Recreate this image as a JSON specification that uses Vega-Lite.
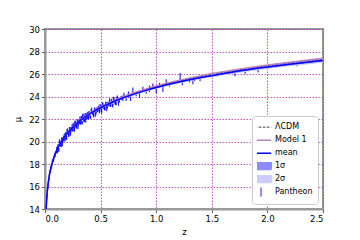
{
  "$schema": "https://vega.github.io/schema/vega-lite/v6.json",
  "width": 278,
  "height": 180,
  "autosize": "none",
  "padding": {"left": 45, "top": 29, "right": 37, "bottom": 31},
  "background": "white",
  "config": {
    "font": "DejaVu Sans",
    "view": {"stroke": "#999999", "strokeWidth": 2},
    "axis": {
      "labelFont": "DejaVu Sans", "labelFontSize": 8.5, "labelColor": "#000000",
      "titleFont": "DejaVu Sans", "titleFontSize": 8.5, "titleFontWeight": "normal", "titleColor": "#000000",
      "domainColor": "#999999", "domainWidth": 2,
      "tickColor": "#333333", "tickSize": 3.5, "tickWidth": 0.8,
      "gridColor": "#b030b0", "gridDash": [1.5, 1.5], "gridOpacity": 0.8, "gridWidth": 1
    }
  },
  "datasets": {
    "curves": [
      {"series": "ΛCDM", "z": 0.01, "mu": 13.98}, {"series": "ΛCDM", "z": 0.015, "mu": 14.86}, {"series": "ΛCDM", "z": 0.02, "mu": 15.50},
      {"series": "ΛCDM", "z": 0.03, "mu": 16.39}, {"series": "ΛCDM", "z": 0.04, "mu": 17.04}, {"series": "ΛCDM", "z": 0.05, "mu": 17.53},
      {"series": "ΛCDM", "z": 0.075, "mu": 18.45}, {"series": "ΛCDM", "z": 0.1, "mu": 19.12}, {"series": "ΛCDM", "z": 0.15, "mu": 20.07},
      {"series": "ΛCDM", "z": 0.2, "mu": 20.76}, {"series": "ΛCDM", "z": 0.25, "mu": 21.30}, {"series": "ΛCDM", "z": 0.3, "mu": 21.76},
      {"series": "ΛCDM", "z": 0.4, "mu": 22.48}, {"series": "ΛCDM", "z": 0.5, "mu": 23.06}, {"series": "ΛCDM", "z": 0.6, "mu": 23.54},
      {"series": "ΛCDM", "z": 0.7, "mu": 23.95}, {"series": "ΛCDM", "z": 0.8, "mu": 24.30}, {"series": "ΛCDM", "z": 0.9, "mu": 24.62},
      {"series": "ΛCDM", "z": 1.0, "mu": 24.90}, {"series": "ΛCDM", "z": 1.2, "mu": 25.39}, {"series": "ΛCDM", "z": 1.4, "mu": 25.81},
      {"series": "ΛCDM", "z": 1.6, "mu": 26.16}, {"series": "ΛCDM", "z": 1.8, "mu": 26.48}, {"series": "ΛCDM", "z": 2.0, "mu": 26.76},
      {"series": "ΛCDM", "z": 2.2, "mu": 27.01}, {"series": "ΛCDM", "z": 2.4, "mu": 27.24}, {"series": "ΛCDM", "z": 2.5, "mu": 27.35},
      {"series": "Model 1", "z": 0.01, "mu": 13.99}, {"series": "Model 1", "z": 0.015, "mu": 14.87}, {"series": "Model 1", "z": 0.02, "mu": 15.51},
      {"series": "Model 1", "z": 0.03, "mu": 16.40}, {"series": "Model 1", "z": 0.04, "mu": 17.05}, {"series": "Model 1", "z": 0.05, "mu": 17.54},
      {"series": "Model 1", "z": 0.075, "mu": 18.46}, {"series": "Model 1", "z": 0.1, "mu": 19.13}, {"series": "Model 1", "z": 0.15, "mu": 20.08},
      {"series": "Model 1", "z": 0.2, "mu": 20.78}, {"series": "Model 1", "z": 0.25, "mu": 21.32}, {"series": "Model 1", "z": 0.3, "mu": 21.78},
      {"series": "Model 1", "z": 0.4, "mu": 22.50}, {"series": "Model 1", "z": 0.5, "mu": 23.09}, {"series": "Model 1", "z": 0.6, "mu": 23.57},
      {"series": "Model 1", "z": 0.7, "mu": 23.98}, {"series": "Model 1", "z": 0.8, "mu": 24.33}, {"series": "Model 1", "z": 0.9, "mu": 24.65},
      {"series": "Model 1", "z": 1.0, "mu": 24.94}, {"series": "Model 1", "z": 1.2, "mu": 25.43}, {"series": "Model 1", "z": 1.4, "mu": 25.85},
      {"series": "Model 1", "z": 1.6, "mu": 26.20}, {"series": "Model 1", "z": 1.8, "mu": 26.52}, {"series": "Model 1", "z": 2.0, "mu": 26.80},
      {"series": "Model 1", "z": 2.2, "mu": 27.05}, {"series": "Model 1", "z": 2.4, "mu": 27.28}, {"series": "Model 1", "z": 2.5, "mu": 27.39},
      {"series": "mean", "z": 0.01, "mu": 13.98}, {"series": "mean", "z": 0.015, "mu": 14.86}, {"series": "mean", "z": 0.02, "mu": 15.49},
      {"series": "mean", "z": 0.03, "mu": 16.38}, {"series": "mean", "z": 0.04, "mu": 17.03}, {"series": "mean", "z": 0.05, "mu": 17.52},
      {"series": "mean", "z": 0.075, "mu": 18.43}, {"series": "mean", "z": 0.1, "mu": 19.10}, {"series": "mean", "z": 0.15, "mu": 20.04},
      {"series": "mean", "z": 0.2, "mu": 20.73}, {"series": "mean", "z": 0.25, "mu": 21.26}, {"series": "mean", "z": 0.3, "mu": 21.72},
      {"series": "mean", "z": 0.4, "mu": 22.43}, {"series": "mean", "z": 0.5, "mu": 23.00}, {"series": "mean", "z": 0.6, "mu": 23.47},
      {"series": "mean", "z": 0.7, "mu": 23.87}, {"series": "mean", "z": 0.8, "mu": 24.21}, {"series": "mean", "z": 0.9, "mu": 24.52},
      {"series": "mean", "z": 1.0, "mu": 24.80}, {"series": "mean", "z": 1.2, "mu": 25.28}, {"series": "mean", "z": 1.4, "mu": 25.69},
      {"series": "mean", "z": 1.6, "mu": 26.03}, {"series": "mean", "z": 1.8, "mu": 26.35}, {"series": "mean", "z": 2.0, "mu": 26.62},
      {"series": "mean", "z": 2.2, "mu": 26.87}, {"series": "mean", "z": 2.4, "mu": 27.09}, {"series": "mean", "z": 2.5, "mu": 27.20}
    ],
    "bands": [
      {"series": "2σ", "z": 0.01, "lo": 13.92, "hi": 14.04}, {"series": "2σ", "z": 0.015, "lo": 14.80, "hi": 14.92}, {"series": "2σ", "z": 0.02, "lo": 15.43, "hi": 15.55},
      {"series": "2σ", "z": 0.03, "lo": 16.32, "hi": 16.44}, {"series": "2σ", "z": 0.04, "lo": 16.97, "hi": 17.09}, {"series": "2σ", "z": 0.05, "lo": 17.46, "hi": 17.58},
      {"series": "2σ", "z": 0.075, "lo": 18.37, "hi": 18.49}, {"series": "2σ", "z": 0.1, "lo": 19.03, "hi": 19.17}, {"series": "2σ", "z": 0.15, "lo": 19.97, "hi": 20.11},
      {"series": "2σ", "z": 0.2, "lo": 20.66, "hi": 20.80}, {"series": "2σ", "z": 0.25, "lo": 21.19, "hi": 21.33}, {"series": "2σ", "z": 0.3, "lo": 21.64, "hi": 21.80},
      {"series": "2σ", "z": 0.4, "lo": 22.35, "hi": 22.51}, {"series": "2σ", "z": 0.5, "lo": 22.91, "hi": 23.09}, {"series": "2σ", "z": 0.6, "lo": 23.37, "hi": 23.57},
      {"series": "2σ", "z": 0.7, "lo": 23.77, "hi": 23.97}, {"series": "2σ", "z": 0.8, "lo": 24.10, "hi": 24.32}, {"series": "2σ", "z": 0.9, "lo": 24.41, "hi": 24.63},
      {"series": "2σ", "z": 1.0, "lo": 24.68, "hi": 24.92}, {"series": "2σ", "z": 1.2, "lo": 25.15, "hi": 25.41}, {"series": "2σ", "z": 1.4, "lo": 25.55, "hi": 25.83},
      {"series": "2σ", "z": 1.6, "lo": 25.87, "hi": 26.19}, {"series": "2σ", "z": 1.8, "lo": 26.18, "hi": 26.52}, {"series": "2σ", "z": 2.0, "lo": 26.44, "hi": 26.80},
      {"series": "2σ", "z": 2.2, "lo": 26.68, "hi": 27.06}, {"series": "2σ", "z": 2.4, "lo": 26.89, "hi": 27.29}, {"series": "2σ", "z": 2.5, "lo": 26.99, "hi": 27.41},
      {"series": "1σ", "z": 0.01, "lo": 13.95, "hi": 14.01}, {"series": "1σ", "z": 0.015, "lo": 14.83, "hi": 14.89}, {"series": "1σ", "z": 0.02, "lo": 15.46, "hi": 15.52},
      {"series": "1σ", "z": 0.03, "lo": 16.35, "hi": 16.41}, {"series": "1σ", "z": 0.04, "lo": 17.00, "hi": 17.06}, {"series": "1σ", "z": 0.05, "lo": 17.49, "hi": 17.55},
      {"series": "1σ", "z": 0.075, "lo": 18.40, "hi": 18.46}, {"series": "1σ", "z": 0.1, "lo": 19.07, "hi": 19.13}, {"series": "1σ", "z": 0.15, "lo": 20.01, "hi": 20.07},
      {"series": "1σ", "z": 0.2, "lo": 20.69, "hi": 20.77}, {"series": "1σ", "z": 0.25, "lo": 21.22, "hi": 21.30}, {"series": "1σ", "z": 0.3, "lo": 21.68, "hi": 21.76},
      {"series": "1σ", "z": 0.4, "lo": 22.39, "hi": 22.47}, {"series": "1σ", "z": 0.5, "lo": 22.95, "hi": 23.05}, {"series": "1σ", "z": 0.6, "lo": 23.42, "hi": 23.52},
      {"series": "1σ", "z": 0.7, "lo": 23.82, "hi": 23.92}, {"series": "1σ", "z": 0.8, "lo": 24.16, "hi": 24.26}, {"series": "1σ", "z": 0.9, "lo": 24.46, "hi": 24.58},
      {"series": "1σ", "z": 1.0, "lo": 24.74, "hi": 24.86}, {"series": "1σ", "z": 1.2, "lo": 25.21, "hi": 25.35}, {"series": "1σ", "z": 1.4, "lo": 25.62, "hi": 25.76},
      {"series": "1σ", "z": 1.6, "lo": 25.95, "hi": 26.11}, {"series": "1σ", "z": 1.8, "lo": 26.27, "hi": 26.43}, {"series": "1σ", "z": 2.0, "lo": 26.53, "hi": 26.71},
      {"series": "1σ", "z": 2.2, "lo": 26.77, "hi": 26.97}, {"series": "1σ", "z": 2.4, "lo": 26.99, "hi": 27.19}, {"series": "1σ", "z": 2.5, "lo": 27.10, "hi": 27.30}
    ],
    "sn": [
      {"series": "Pantheon", "z": 0.010, "mu": 14.04, "err": 0.14}, {"series": "Pantheon", "z": 0.013, "mu": 14.41, "err": 0.11},
      {"series": "Pantheon", "z": 0.016, "mu": 15.02, "err": 0.17}, {"series": "Pantheon", "z": 0.019, "mu": 15.19, "err": 0.12},
      {"series": "Pantheon", "z": 0.022, "mu": 15.80, "err": 0.2}, {"series": "Pantheon", "z": 0.025, "mu": 15.91, "err": 0.12},
      {"series": "Pantheon", "z": 0.028, "mu": 16.08, "err": 0.15}, {"series": "Pantheon", "z": 0.032, "mu": 16.58, "err": 0.14},
      {"series": "Pantheon", "z": 0.036, "mu": 16.69, "err": 0.11}, {"series": "Pantheon", "z": 0.040, "mu": 17.01, "err": 0.17},
      {"series": "Pantheon", "z": 0.045, "mu": 17.36, "err": 0.12}, {"series": "Pantheon", "z": 0.050, "mu": 17.39, "err": 0.2},
      {"series": "Pantheon", "z": 0.055, "mu": 17.76, "err": 0.12}, {"series": "Pantheon", "z": 0.060, "mu": 17.76, "err": 0.15},
      {"series": "Pantheon", "z": 0.066, "mu": 18.26, "err": 0.14}, {"series": "Pantheon", "z": 0.072, "mu": 18.29, "err": 0.11},
      {"series": "Pantheon", "z": 0.078, "mu": 18.39, "err": 0.17}, {"series": "Pantheon", "z": 0.085, "mu": 18.79, "err": 0.12},
      {"series": "Pantheon", "z": 0.092, "mu": 18.82, "err": 0.2}, {"series": "Pantheon", "z": 0.098, "mu": 19.04, "err": 0.12},
      {"series": "Pantheon", "z": 0.104, "mu": 19.33, "err": 0.18}, {"series": "Pantheon", "z": 0.111, "mu": 19.09, "err": 0.14},
      {"series": "Pantheon", "z": 0.118, "mu": 19.53, "err": 0.22}, {"series": "Pantheon", "z": 0.125, "mu": 19.26, "err": 0.16},
      {"series": "Pantheon", "z": 0.132, "mu": 19.95, "err": 0.26}, {"series": "Pantheon", "z": 0.139, "mu": 19.75, "err": 0.15},
      {"series": "Pantheon", "z": 0.146, "mu": 19.69, "err": 0.20}, {"series": "Pantheon", "z": 0.153, "mu": 20.21, "err": 0.18},
      {"series": "Pantheon", "z": 0.160, "mu": 20.01, "err": 0.14}, {"series": "Pantheon", "z": 0.167, "mu": 20.29, "err": 0.22},
      {"series": "Pantheon", "z": 0.174, "mu": 20.56, "err": 0.16}, {"series": "Pantheon", "z": 0.181, "mu": 20.25, "err": 0.26},
      {"series": "Pantheon", "z": 0.188, "mu": 20.65, "err": 0.15}, {"series": "Pantheon", "z": 0.195, "mu": 20.34, "err": 0.20},
      {"series": "Pantheon", "z": 0.202, "mu": 20.98, "err": 0.18}, {"series": "Pantheon", "z": 0.209, "mu": 20.73, "err": 0.14},
      {"series": "Pantheon", "z": 0.216, "mu": 20.64, "err": 0.22}, {"series": "Pantheon", "z": 0.223, "mu": 21.12, "err": 0.16},
      {"series": "Pantheon", "z": 0.230, "mu": 20.89, "err": 0.26}, {"series": "Pantheon", "z": 0.237, "mu": 21.14, "err": 0.15},
      {"series": "Pantheon", "z": 0.244, "mu": 21.38, "err": 0.20}, {"series": "Pantheon", "z": 0.251, "mu": 21.04, "err": 0.18},
      {"series": "Pantheon", "z": 0.258, "mu": 21.41, "err": 0.14}, {"series": "Pantheon", "z": 0.265, "mu": 21.08, "err": 0.22},
      {"series": "Pantheon", "z": 0.272, "mu": 21.70, "err": 0.16}, {"series": "Pantheon", "z": 0.279, "mu": 21.43, "err": 0.26},
      {"series": "Pantheon", "z": 0.286, "mu": 21.33, "err": 0.15}, {"series": "Pantheon", "z": 0.293, "mu": 21.78, "err": 0.20},
      {"series": "Pantheon", "z": 0.300, "mu": 21.54, "err": 0.18}, {"series": "Pantheon", "z": 0.307, "mu": 21.77, "err": 0.14},
      {"series": "Pantheon", "z": 0.314, "mu": 22.00, "err": 0.22}, {"series": "Pantheon", "z": 0.321, "mu": 21.65, "err": 0.16},
      {"series": "Pantheon", "z": 0.328, "mu": 22.01, "err": 0.26}, {"series": "Pantheon", "z": 0.335, "mu": 21.66, "err": 0.15},
      {"series": "Pantheon", "z": 0.342, "mu": 22.27, "err": 0.20}, {"series": "Pantheon", "z": 0.349, "mu": 21.99, "err": 0.18},
      {"series": "Pantheon", "z": 0.356, "mu": 21.87, "err": 0.14}, {"series": "Pantheon", "z": 0.363, "mu": 22.32, "err": 0.22},
      {"series": "Pantheon", "z": 0.370, "mu": 22.07, "err": 0.16}, {"series": "Pantheon", "z": 0.377, "mu": 22.29, "err": 0.26},
      {"series": "Pantheon", "z": 0.384, "mu": 22.50, "err": 0.15}, {"series": "Pantheon", "z": 0.391, "mu": 22.15, "err": 0.20},
      {"series": "Pantheon", "z": 0.398, "mu": 22.49, "err": 0.18}, {"series": "Pantheon", "z": 0.41, "mu": 22.16, "err": 0.14},
      {"series": "Pantheon", "z": 0.42, "mu": 22.78, "err": 0.22}, {"series": "Pantheon", "z": 0.43, "mu": 22.51, "err": 0.16},
      {"series": "Pantheon", "z": 0.44, "mu": 22.40, "err": 0.26}, {"series": "Pantheon", "z": 0.45, "mu": 22.86, "err": 0.15},
      {"series": "Pantheon", "z": 0.46, "mu": 22.62, "err": 0.20}, {"series": "Pantheon", "z": 0.47, "mu": 22.85, "err": 0.18},
      {"series": "Pantheon", "z": 0.48, "mu": 23.07, "err": 0.14}, {"series": "Pantheon", "z": 0.49, "mu": 22.73, "err": 0.22},
      {"series": "Pantheon", "z": 0.50, "mu": 23.08, "err": 0.16}, {"series": "Pantheon", "z": 0.51, "mu": 22.73, "err": 0.26},
      {"series": "Pantheon", "z": 0.52, "mu": 23.34, "err": 0.15}, {"series": "Pantheon", "z": 0.53, "mu": 23.06, "err": 0.20},
      {"series": "Pantheon", "z": 0.54, "mu": 22.94, "err": 0.18}, {"series": "Pantheon", "z": 0.55, "mu": 23.39, "err": 0.14},
      {"series": "Pantheon", "z": 0.56, "mu": 23.13, "err": 0.22}, {"series": "Pantheon", "z": 0.57, "mu": 23.35, "err": 0.16},
      {"series": "Pantheon", "z": 0.58, "mu": 23.57, "err": 0.26}, {"series": "Pantheon", "z": 0.59, "mu": 23.21, "err": 0.15},
      {"series": "Pantheon", "z": 0.60, "mu": 23.56, "err": 0.20}, {"series": "Pantheon", "z": 0.61, "mu": 23.20, "err": 0.18},
      {"series": "Pantheon", "z": 0.62, "mu": 23.80, "err": 0.14}, {"series": "Pantheon", "z": 0.63, "mu": 23.52, "err": 0.22},
      {"series": "Pantheon", "z": 0.64, "mu": 23.39, "err": 0.16}, {"series": "Pantheon", "z": 0.65, "mu": 23.83, "err": 0.26},
      {"series": "Pantheon", "z": 0.67, "mu": 23.61, "err": 0.15}, {"series": "Pantheon", "z": 0.69, "mu": 23.86, "err": 0.20},
      {"series": "Pantheon", "z": 0.71, "mu": 24.11, "err": 0.23}, {"series": "Pantheon", "z": 0.73, "mu": 23.78, "err": 0.18},
      {"series": "Pantheon", "z": 0.75, "mu": 24.15, "err": 0.29}, {"series": "Pantheon", "z": 0.77, "mu": 23.82, "err": 0.21},
      {"series": "Pantheon", "z": 0.79, "mu": 24.45, "err": 0.34}, {"series": "Pantheon", "z": 0.82, "mu": 24.22, "err": 0.20},
      {"series": "Pantheon", "z": 0.85, "mu": 24.15, "err": 0.26}, {"series": "Pantheon", "z": 0.88, "mu": 24.64, "err": 0.23},
      {"series": "Pantheon", "z": 0.91, "mu": 24.43, "err": 0.18}, {"series": "Pantheon", "z": 0.94, "mu": 24.68, "err": 0.29},
      {"series": "Pantheon", "z": 0.97, "mu": 24.94, "err": 0.21}, {"series": "Pantheon", "z": 1.00, "mu": 24.62, "err": 0.34},
      {"series": "Pantheon", "z": 1.03, "mu": 25.00, "err": 0.20}, {"series": "Pantheon", "z": 1.06, "mu": 24.67, "err": 0.26},
      {"series": "Pantheon", "z": 1.09, "mu": 25.31, "err": 0.23}, {"series": "Pantheon", "z": 1.12, "mu": 25.05, "err": 0.18},
      {"series": "Pantheon", "z": 0.1075, "mu": 19.11, "err": 0.15}, {"series": "Pantheon", "z": 0.1145, "mu": 19.50, "err": 0.21},
      {"series": "Pantheon", "z": 0.1215, "mu": 19.25, "err": 0.13}, {"series": "Pantheon", "z": 0.1285, "mu": 19.85, "err": 0.24},
      {"series": "Pantheon", "z": 0.1355, "mu": 19.76, "err": 0.17}, {"series": "Pantheon", "z": 0.1425, "mu": 19.70, "err": 0.19},
      {"series": "Pantheon", "z": 0.1495, "mu": 20.17, "err": 0.15}, {"series": "Pantheon", "z": 0.1565, "mu": 19.78, "err": 0.21},
      {"series": "Pantheon", "z": 0.1635, "mu": 20.29, "err": 0.13}, {"series": "Pantheon", "z": 0.1705, "mu": 20.27, "err": 0.24},
      {"series": "Pantheon", "z": 0.1775, "mu": 20.31, "err": 0.17}, {"series": "Pantheon", "z": 0.1845, "mu": 20.64, "err": 0.19},
      {"series": "Pantheon", "z": 0.1915, "mu": 20.35, "err": 0.15}, {"series": "Pantheon", "z": 0.1985, "mu": 20.90, "err": 0.21},
      {"series": "Pantheon", "z": 0.2055, "mu": 20.76, "err": 0.13}, {"series": "Pantheon", "z": 0.2125, "mu": 20.66, "err": 0.24},
      {"series": "Pantheon", "z": 0.2195, "mu": 21.10, "err": 0.17}, {"series": "Pantheon", "z": 0.2265, "mu": 20.68, "err": 0.19},
      {"series": "Pantheon", "z": 0.2335, "mu": 21.15, "err": 0.15}, {"series": "Pantheon", "z": 0.2405, "mu": 21.11, "err": 0.21},
      {"series": "Pantheon", "z": 0.2475, "mu": 21.11, "err": 0.13}, {"series": "Pantheon", "z": 0.2545, "mu": 21.42, "err": 0.24},
      {"series": "Pantheon", "z": 0.2615, "mu": 21.10, "err": 0.17}, {"series": "Pantheon", "z": 0.2685, "mu": 21.63, "err": 0.19},
      {"series": "Pantheon", "z": 0.2755, "mu": 21.47, "err": 0.15}, {"series": "Pantheon", "z": 0.2825, "mu": 21.36, "err": 0.21},
      {"series": "Pantheon", "z": 0.2895, "mu": 21.78, "err": 0.13}, {"series": "Pantheon", "z": 0.2965, "mu": 21.33, "err": 0.24},
      {"series": "Pantheon", "z": 0.3035, "mu": 21.79, "err": 0.17}, {"series": "Pantheon", "z": 0.3105, "mu": 21.73, "err": 0.19},
      {"series": "Pantheon", "z": 0.3175, "mu": 21.73, "err": 0.15}, {"series": "Pantheon", "z": 0.3245, "mu": 22.02, "err": 0.21},
      {"series": "Pantheon", "z": 0.3315, "mu": 21.69, "err": 0.13}, {"series": "Pantheon", "z": 0.3385, "mu": 22.21, "err": 0.24},
      {"series": "Pantheon", "z": 0.3455, "mu": 22.04, "err": 0.17}, {"series": "Pantheon", "z": 0.3525, "mu": 21.91, "err": 0.19},
      {"series": "Pantheon", "z": 0.3595, "mu": 22.32, "err": 0.15}, {"series": "Pantheon", "z": 0.3665, "mu": 21.87, "err": 0.21},
      {"series": "Pantheon", "z": 0.3735, "mu": 22.32, "err": 0.13}, {"series": "Pantheon", "z": 0.3805, "mu": 22.24, "err": 0.24},
      {"series": "Pantheon", "z": 0.3875, "mu": 22.23, "err": 0.17}, {"series": "Pantheon", "z": 0.3945, "mu": 22.51, "err": 0.19},
      {"series": "Pantheon", "z": 0.405, "mu": 22.18, "err": 0.15}, {"series": "Pantheon", "z": 0.415, "mu": 22.71, "err": 0.21},
      {"series": "Pantheon", "z": 0.425, "mu": 22.55, "err": 0.13}, {"series": "Pantheon", "z": 0.435, "mu": 22.43, "err": 0.24},
      {"series": "Pantheon", "z": 0.445, "mu": 22.85, "err": 0.17}, {"series": "Pantheon", "z": 0.455, "mu": 22.41, "err": 0.19},
      {"series": "Pantheon", "z": 0.465, "mu": 22.87, "err": 0.15}, {"series": "Pantheon", "z": 0.475, "mu": 22.81, "err": 0.21},
      {"series": "Pantheon", "z": 0.485, "mu": 22.80, "err": 0.13}, {"series": "Pantheon", "z": 0.495, "mu": 23.10, "err": 0.24},
      {"series": "Pantheon", "z": 0.505, "mu": 22.76, "err": 0.17}, {"series": "Pantheon", "z": 0.515, "mu": 23.28, "err": 0.19},
      {"series": "Pantheon", "z": 0.525, "mu": 23.11, "err": 0.15}, {"series": "Pantheon", "z": 0.535, "mu": 22.98, "err": 0.21},
      {"series": "Pantheon", "z": 0.545, "mu": 23.39, "err": 0.13}, {"series": "Pantheon", "z": 0.555, "mu": 22.93, "err": 0.24},
      {"series": "Pantheon", "z": 0.565, "mu": 23.38, "err": 0.17}, {"series": "Pantheon", "z": 0.575, "mu": 23.31, "err": 0.19},
      {"series": "Pantheon", "z": 0.585, "mu": 23.29, "err": 0.15}, {"series": "Pantheon", "z": 0.595, "mu": 23.58, "err": 0.21},
      {"series": "Pantheon", "z": 0.605, "mu": 23.23, "err": 0.13}, {"series": "Pantheon", "z": 0.615, "mu": 23.74, "err": 0.24},
      {"series": "Pantheon", "z": 0.625, "mu": 23.57, "err": 0.17}, {"series": "Pantheon", "z": 0.635, "mu": 23.43, "err": 0.19},
      {"series": "Pantheon", "z": 0.645, "mu": 23.83, "err": 0.15}, {"series": "Pantheon", "z": 0.66, "mu": 23.39, "err": 0.21},
      {"series": "Pantheon", "z": 0.68, "mu": 23.87, "err": 0.13}, {"series": "Pantheon", "z": 0.70, "mu": 23.83, "err": 0.24},
      {"series": "Pantheon", "z": 1.215, "mu": 25.75, "err": 0.33}, {"series": "Pantheon", "z": 1.235, "mu": 25.25, "err": 0.25},
      {"series": "Pantheon", "z": 1.30, "mu": 25.45, "err": 0.2}, {"series": "Pantheon", "z": 1.33, "mu": 25.35, "err": 0.25},
      {"series": "Pantheon", "z": 1.345, "mu": 25.55, "err": 0.18}, {"series": "Pantheon", "z": 1.394, "mu": 25.55, "err": 0.2},
      {"series": "Pantheon", "z": 1.55, "mu": 25.95, "err": 0.15}, {"series": "Pantheon", "z": 1.708, "mu": 26.05, "err": 0.25},
      {"series": "Pantheon", "z": 1.80, "mu": 26.25, "err": 0.22}, {"series": "Pantheon", "z": 1.917, "mu": 26.35, "err": 0.22},
      {"series": "Pantheon", "z": 2.267, "mu": 26.85, "err": 0.15}
    ]
  },
  "encoding": {
    "color": {
      "field": "series", "type": "nominal",
      "scale": {"domain": ["ΛCDM", "Model 1", "mean", "1σ", "2σ", "Pantheon"], "range": ["#000000", "#bf7fbf", "#0000ff", "#8c8cff", "#ccccff", "#0000ff"]},
      "legend": {
        "title": null, "orient": "bottom-right", "offset": 5,
        "fillColor": "white", "strokeColor": "#cccccc", "cornerRadius": 3, "padding": 5,
        "labelFont": "DejaVu Sans", "labelFontSize": 8, "labelColor": "#000000", "labelOffset": 10,
        "symbolSize": 144, "rowPadding": 0, "clipHeight": 12.3,
        "encode": {
          "symbols": {
            "update": {
              "shape": {"signal": "datum.value === 'Pantheon' ? 'M0,-0.75L0,0.75' : (datum.value === '1σ' || datum.value === '2σ') ? 'M-1.7,-0.55H1.7V0.55H-1.7Z' : 'M-1.7,0H1.7'"},
              "fill": {"signal": "datum.value === '1σ' ? '#8c8cff' : datum.value === '2σ' ? '#ccccff' : 'transparent'"},
              "stroke": {"signal": "datum.value === 'ΛCDM' ? '#000000' : datum.value === 'Model 1' ? '#bf7fbf' : (datum.value === 'mean' || datum.value === 'Pantheon') ? '#0000ff' : 'transparent'"},
              "strokeDash": {"signal": "datum.value === 'ΛCDM' ? [2.5, 1.5] : [1, 0]"},
              "strokeWidth": {"signal": "datum.value === 'ΛCDM' ? 0.8 : datum.value === 'Pantheon' ? 1 : 1.5"},
              "opacity": {"value": 1}
            }
          }
        }
      }
    }
  },
  "layer": [
    {
      "data": {"name": "sn"},
      "mark": {"type": "errorbar", "thickness": 1.1, "clip": true, "opacity": 0.9},
      "encoding": {
        "x": {"field": "z", "type": "quantitative", "scale": {"domain": [0, 2.5], "nice": false}, "title": "z",
              "axis": {"values": [0, 0.5, 1, 1.5, 2, 2.5], "format": ".1f", "titlePadding": 4, "gridDash": [1.5, 1.5]}},
        "y": {"field": "mu", "type": "quantitative", "scale": {"domain": [14, 30], "nice": false, "zero": false}, "title": "μ",
              "axis": {"values": [14, 16, 18, 20, 22, 24, 26, 28, 30], "titlePadding": 6, "gridDash": [1.5, 1.5]}},
        "yError": {"field": "err"}
      }
    },
    {
      "data": {"name": "bands"},
      "transform": [{"filter": "datum.series === '2σ'"}],
      "mark": {"type": "area", "clip": true, "opacity": 1},
      "encoding": {
        "x": {"field": "z", "type": "quantitative", "scale": {"domain": [0, 2.5], "nice": false}, "title": "z",
              "axis": {"values": [0, 0.5, 1, 1.5, 2, 2.5], "format": ".1f", "titlePadding": 4, "gridDash": [1.5, 1.5]}},
        "y": {"field": "lo", "type": "quantitative", "scale": {"domain": [14, 30], "nice": false, "zero": false}, "title": "μ",
              "axis": {"values": [14, 16, 18, 20, 22, 24, 26, 28, 30], "titlePadding": 6, "gridDash": [1.5, 1.5]}},
        "y2": {"field": "hi"}
      }
    },
    {
      "data": {"name": "bands"},
      "transform": [{"filter": "datum.series === '1σ'"}],
      "mark": {"type": "area", "clip": true, "opacity": 1},
      "encoding": {
        "x": {"field": "z", "type": "quantitative", "scale": {"domain": [0, 2.5], "nice": false}, "title": "z",
              "axis": {"values": [0, 0.5, 1, 1.5, 2, 2.5], "format": ".1f", "titlePadding": 4, "gridDash": [1.5, 1.5]}},
        "y": {"field": "lo", "type": "quantitative", "scale": {"domain": [14, 30], "nice": false, "zero": false}, "title": "μ",
              "axis": {"values": [14, 16, 18, 20, 22, 24, 26, 28, 30], "titlePadding": 6, "gridDash": [1.5, 1.5]}},
        "y2": {"field": "hi"}
      }
    },
    {
      "data": {"name": "curves"},
      "transform": [{"filter": "datum.series === 'ΛCDM'"}],
      "mark": {"type": "line", "clip": true, "strokeWidth": 0.8, "strokeDash": [2.5, 1.5], "interpolate": "monotone"},
      "encoding": {
        "x": {"field": "z", "type": "quantitative", "scale": {"domain": [0, 2.5], "nice": false}, "title": "z",
              "axis": {"values": [0, 0.5, 1, 1.5, 2, 2.5], "format": ".1f", "titlePadding": 4, "gridDash": [1.5, 1.5]}},
        "y": {"field": "mu", "type": "quantitative", "scale": {"domain": [14, 30], "nice": false, "zero": false}, "title": "μ",
              "axis": {"values": [14, 16, 18, 20, 22, 24, 26, 28, 30], "titlePadding": 6, "gridDash": [1.5, 1.5]}}
      }
    },
    {
      "data": {"name": "curves"},
      "transform": [{"filter": "datum.series === 'Model 1'"}],
      "mark": {"type": "line", "clip": true, "strokeWidth": 1.5, "interpolate": "monotone", "opacity": 0.9},
      "encoding": {
        "x": {"field": "z", "type": "quantitative", "scale": {"domain": [0, 2.5], "nice": false}, "title": "z",
              "axis": {"values": [0, 0.5, 1, 1.5, 2, 2.5], "format": ".1f", "titlePadding": 4, "gridDash": [1.5, 1.5]}},
        "y": {"field": "mu", "type": "quantitative", "scale": {"domain": [14, 30], "nice": false, "zero": false}, "title": "μ",
              "axis": {"values": [14, 16, 18, 20, 22, 24, 26, 28, 30], "titlePadding": 6, "gridDash": [1.5, 1.5]}}
      }
    },
    {
      "data": {"name": "curves"},
      "transform": [{"filter": "datum.series === 'mean'"}],
      "mark": {"type": "line", "clip": true, "strokeWidth": 1.5, "interpolate": "monotone"},
      "encoding": {
        "x": {"field": "z", "type": "quantitative", "scale": {"domain": [0, 2.5], "nice": false}, "title": "z",
              "axis": {"values": [0, 0.5, 1, 1.5, 2, 2.5], "format": ".1f", "titlePadding": 4, "gridDash": [1.5, 1.5]}},
        "y": {"field": "mu", "type": "quantitative", "scale": {"domain": [14, 30], "nice": false, "zero": false}, "title": "μ",
              "axis": {"values": [14, 16, 18, 20, 22, 24, 26, 28, 30], "titlePadding": 6, "gridDash": [1.5, 1.5]}}
      }
    }
  ]
}
